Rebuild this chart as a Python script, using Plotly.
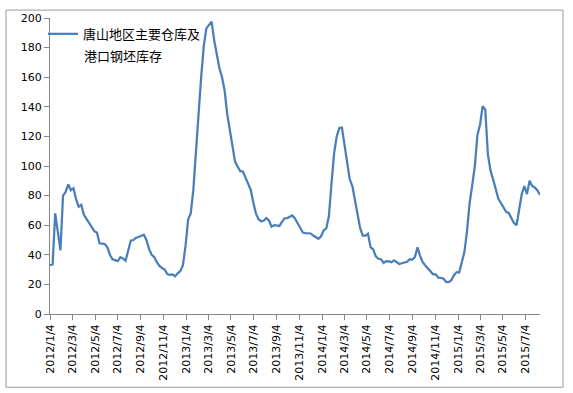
import pandas as pd
import plotly.graph_objects as go

series_name_line1 = "唐山地区主要仓库及"
series_name_line2 = "港口钢坯库存"
start_date = "2012-01-04"

# weekly stock values (万吨)
values_2012 = [33, 33.5, 68, 55, 43, 80, 82.5, 87.6, 83.6, 85, 77.6, 72.5, 73.7, 67, 64,
               61.5, 59, 56, 55, 47.8, 47.6, 47.3, 45, 40, 37, 36.2, 35.7, 38.4, 37.5, 36,
               42, 49.6, 50, 51.5, 52, 53, 53.5, 50, 44, 40, 38.5, 35, 32.5, 31, 30,
               27, 26.5, 26.8, 25.5, 27.5, 29, 33]
values_2013 = [46, 64, 68, 84, 113, 135, 160, 181, 193, 195.5, 197.5, 185, 174, 166, 160,
               151, 135, 123.4, 113.5, 103, 99.5, 96.5, 96.3, 92.5, 88.5, 84, 75.3, 68, 64,
               62.7, 63, 64.8, 63.2, 59, 60, 60, 59.5, 62.3, 64.7, 64.8, 65.5, 66.6, 64.5,
               61, 57.5, 55, 54.6, 54.5, 54.4, 53, 51.8, 50.8]
values_2014 = [52.5, 56.5, 57.8, 66, 88, 108.5, 120, 125.7, 126, 115, 103, 91, 86.5, 77,
               65, 58, 53, 53, 54.3, 45, 43.7, 38.9, 37.3, 37, 34.5, 35.7, 35.5, 35, 36.2,
               35, 33.8, 34.3, 34.7, 35.3, 37, 36.6, 38.5, 45, 39.3, 35, 32.8, 31, 28.5,
               26.8, 26.8, 24.6, 24.4, 23.8, 21.7, 21.5, 22.8, 26.2]
values_2015 = [28.3, 28, 35, 42, 56, 75, 87, 100, 121, 128, 140.5, 138, 108, 97, 91, 84.3,
               78, 75, 72, 69, 68.3, 65, 61.5, 60, 71, 81, 86.5, 81, 90, 86.5, 85.5, 83.5,
               80.5]
values = values_2012 + values_2013 + values_2014 + values_2015

tick_labels = ["2012/1/4", "2012/3/4", "2012/5/4", "2012/7/4", "2012/9/4", "2012/11/4",
               "2013/1/4", "2013/3/4", "2013/5/4", "2013/7/4", "2013/9/4", "2013/11/4",
               "2014/1/4", "2014/3/4", "2014/5/4", "2014/7/4", "2014/9/4", "2014/11/4",
               "2015/1/4", "2015/3/4", "2015/5/4", "2015/7/4"]
y_ticks = [0, 20, 40, 60, 80, 100, 120, 140, 160, 180, 200]

dates = pd.date_range(start_date, periods=len(values), freq="7D")
tick_vals = [pd.Timestamp(t.replace("/", "-")) for t in tick_labels]

fig = go.Figure()
fig.add_trace(go.Scatter(
    x=dates, y=values, mode="lines", name=series_name_line1,
    line=dict(color="#4A7EBB", width=2.25),
    showlegend=True,
))

axis_color = "#868686"
font_family = "DejaVu Sans, Verdana, sans-serif"
cjk_font = "Noto Sans CJK SC, sans-serif"

fig.update_layout(
    width=573, height=393,
    margin=dict(l=50, r=33, t=15, b=79),
    paper_bgcolor="white", plot_bgcolor="white",
    font=dict(family=font_family, size=11, color="#000000"),
    showlegend=True,
    legend=dict(
        x=-7 / 490, y=0.997, xanchor="left", yanchor="top",
        bgcolor="rgba(0,0,0,0)", valign="top",
        font=dict(family=cjk_font, size=13, color="#000000"),
        itemwidth=30,
    ),
    xaxis=dict(
        type="date",
        range=["2012-01-04", "2015-08-12"],
        tickmode="array", tickvals=tick_vals, ticktext=tick_labels,
        tickangle=-90, ticks="outside", ticklen=5, tickcolor=axis_color,
        showline=True, linecolor=axis_color, linewidth=1,
        showgrid=False, zeroline=False,
        tickfont=dict(size=11),
    ),
    yaxis=dict(
        range=[0, 200], tickvals=y_ticks,
        ticks="outside", ticklen=5, tickcolor=axis_color,
        showline=True, linecolor=axis_color, linewidth=1,
        showgrid=False, zeroline=False,
        tickfont=dict(size=11),
    ),
    annotations=[dict(
        text=series_name_line2, xref="paper", yref="paper",
        x=(82 - 50) / 490, y=(314 - 53) / 299, xanchor="left", yanchor="middle",
        showarrow=False, font=dict(family=cjk_font, size=13, color="#000000"),
    )],
    shapes=[dict(
        type="rect", xref="paper", yref="paper",
        x0=(6 - 50) / 490, x1=(563 - 50) / 490,
        y0=(314 - 388) / 299, y1=(314 - 7) / 299,
        line=dict(color="#9a9a9a", width=1), fillcolor="rgba(0,0,0,0)",
        layer="below",
    )],
)

fig.write_html("out.html", config={"displayModeBar": False},
               post_script="document.body.style.margin='0px';")
